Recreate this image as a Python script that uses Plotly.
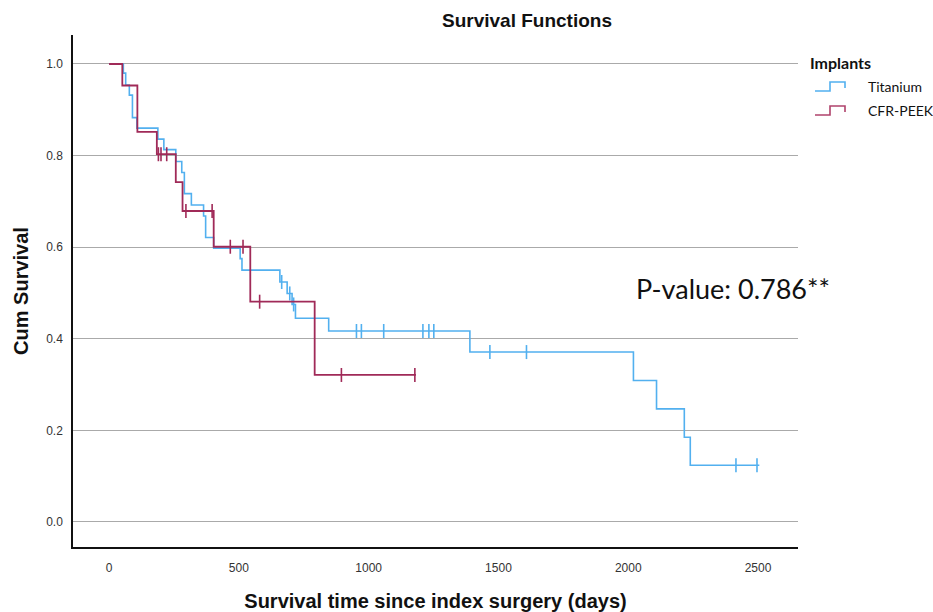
import plotly.graph_objects as go

# ---- Data ----
ti_event_days = [55, 64, 78, 90, 107, 188, 211, 257, 280, 290, 317, 364, 372, 403,
                 505, 512, 658, 686, 705, 718, 846, 1390, 2020, 2109, 2216, 2239]
ti_survival = [0.980, 0.954, 0.932, 0.883, 0.860, 0.836, 0.813, 0.787, 0.763, 0.717,
               0.692, 0.668, 0.621, 0.598, 0.575, 0.550, 0.524, 0.499, 0.475, 0.445,
               0.417, 0.371, 0.309, 0.247, 0.185, 0.124]
ti_censor_days = [665, 696, 711, 953, 972, 1058, 1209, 1232, 1251, 1467, 1608, 2415, 2496]
ti_last_day = 2505

peek_event_days = [51, 109, 184, 257, 283, 403, 544, 792]
peek_survival = [0.953, 0.852, 0.803, 0.742, 0.679, 0.601, 0.481, 0.321]
peek_censor_days = [190, 200, 222, 296, 397, 467, 516, 580, 895, 1178]
peek_last_day = 1182

x_ticks = [0, 500, 1000, 1500, 2000, 2500]
y_ticks = [0.0, 0.2, 0.4, 0.6, 0.8, 1.0]
group_names = ["Titanium", "CFR-PEEK"]

TI_COLOR = "#52b0ef"
PEEK_COLOR = "#a02a58"
LEGEND_PEEK_COLOR = "#b0436c"

# plot geometry (page body margin removed via post_script)
W, H = 933, 612
L, R, T, B = 73, 135, 35, 65
PW, PH = W - L - R, H - T - B


def px(xp):
    return (xp - L) / PW


def py(yp):
    return (H - B - yp) / PH


def step_xy(days, surv, last):
    x = [0] + list(days) + [last]
    y = [1.0] + list(surv) + [surv[-1]]
    return x, y


def surv_at(days, surv, t):
    s = 1.0
    for d, v in zip(days, surv):
        if d <= t:
            s = v
    return s


fig = go.Figure()

for name, days, surv, cens, last, col, lw in [
    (group_names[0], ti_event_days, ti_survival, ti_censor_days, ti_last_day, TI_COLOR, 1.6),
    (group_names[1], peek_event_days, peek_survival, peek_censor_days, peek_last_day, PEEK_COLOR, 1.8),
]:
    x, y = step_xy(days, surv, last)
    fig.add_trace(go.Scatter(x=x, y=y, mode="lines", line=dict(shape="hv", color=col, width=lw),
                             name=name, legendgroup=name, showlegend=False))
    fig.add_trace(go.Scatter(x=cens, y=[surv_at(days, surv, t) for t in cens], mode="markers",
                             marker=dict(symbol="line-ns", size=10, line=dict(color=col, width=1.6)),
                             name=name + " censored", legendgroup=name, showlegend=False,
                             hoverinfo="x+y"))

FONT = "Liberation Sans, Arial, sans-serif"
LFONT = "Lato, Open Sans, sans-serif"

fig.update_layout(
    width=W, height=H,
    margin=dict(l=L, r=R, t=T, b=B, autoexpand=False),
    paper_bgcolor="white", plot_bgcolor="white",
    font=dict(family=FONT, color="#222"),
    title=dict(text="<b>Survival Functions</b>", x=527 / W, y=1 - 20 / H,
               xref="container", yref="container", xanchor="center", yanchor="middle",
               font=dict(size=19, family=FONT, color="#111")),
    xaxis=dict(range=[-139, 2654], tickvals=x_ticks, ticktext=[str(v) for v in x_ticks],
               showgrid=False, zeroline=False, showline=True, linecolor="#111", linewidth=1.5,
               ticks="", ticklabelstandoff=9, tickfont=dict(size=12, color="#333"),
               automargin=False,
               title=dict(text="<b>Survival time since index surgery (days)</b>",
                          font=dict(size=20, color="#111"), standoff=22)),
    yaxis=dict(range=[-0.0546, 1.0633], tickvals=y_ticks, ticktext=[f"{v:.1f}" for v in y_ticks],
               showgrid=True, gridcolor="#aaaaaa", gridwidth=1.2, zeroline=False,
               showline=True, linecolor="#111", linewidth=1.5,
               ticks="", ticklabelstandoff=6, tickfont=dict(size=12, color="#333"),
               automargin=False,
               title=dict(text="<b>Cum Survival</b>", font=dict(size=20, color="#111"), standoff=12)),
    showlegend=False,
)

# P-value annotation
fig.add_annotation(text="P-value: 0.786**", x=px(733), y=py(288), xref="paper", yref="paper",
                   xanchor="center", yanchor="middle", showarrow=False,
                   font=dict(size=27, family=LFONT, color="#111"))

# Legend (SPSS style, step-shaped keys)
fig.add_annotation(text="<b>Implants</b>", x=px(808), y=py(62), xref="paper", yref="paper",
                   xanchor="left", yanchor="middle", showarrow=False,
                   font=dict(size=16, family=LFONT, color="#111"))
for name, col, ty in [(group_names[0], TI_COLOR, 86), (group_names[1], LEGEND_PEEK_COLOR, 110)]:
    fig.add_annotation(text=name, x=px(866), y=py(ty), xref="paper", yref="paper",
                       xanchor="left", yanchor="middle", showarrow=False,
                       font=dict(size=14, family=LFONT, color="#111"))
    pts = [(815, ty + 5), (830, ty + 5), (830, ty - 4), (845, ty - 4), (845, ty + 2)]
    path = "M " + " L ".join(f"{px(a):.5f},{py(b):.5f}" for a, b in pts)
    fig.add_shape(type="path", path=path, xref="paper", yref="paper",
                  line=dict(color=col, width=1.6))

fig.write_html(
    "out.html",
    config={"displayModeBar": False},
    post_script="document.body.style.margin='0';document.body.style.overflow='hidden';",
)
